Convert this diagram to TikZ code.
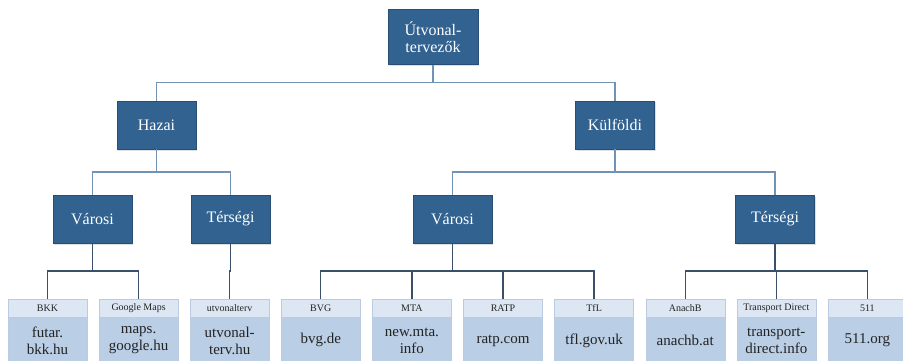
\documentclass[tikz,border=0pt]{standalone}
\usepackage{fontspec}
\setmainfont{Liberation Serif}
\usepackage{tikz}
\usetikzlibrary{calc,shadows}
\definecolor{boxblue}{RGB}{50,98,144}
\definecolor{boxedge}{RGB}{40,78,118}
\definecolor{linelight}{RGB}{112,147,182}
\definecolor{linedark}{RGB}{58,80,106}
\definecolor{hdrfill}{RGB}{221,231,243}
\definecolor{hdredge}{RGB}{188,204,224}
\definecolor{webfill}{RGB}{186,206,230}
\definecolor{txtdark}{RGB}{35,35,35}

\begin{document}
\begin{tikzpicture}[x=1pt, y=-1pt]
% Node styles ---
\tikzstyle{cat} = [rectangle, inner sep = 0pt, minimum width = 79pt, minimum height = 48pt, draw = boxedge, line width = 0.4pt, fill = boxblue, text = white, align = center, font = \fontsize{16}{17}\selectfont, drop shadow = {shadow xshift = 1pt, shadow yshift = -1.5pt, opacity = 0.25}]
\tikzstyle{hdr} = [rectangle, inner sep = 0pt, minimum width = 79pt, minimum height = 18pt, draw = hdredge, line width = 0.4pt, fill = hdrfill, text = txtdark, font = \fontsize{10}{12}\selectfont]
\tikzstyle{web} = [rectangle, inner sep = 0pt, minimum width = 79pt, minimum height = 46pt, draw = hdredge, line width = 0.4pt, fill = webfill, text = txtdark, align = center, font = \fontsize{15}{17}\selectfont]
\tikzstyle{con} = [draw = linelight, line width = 1.3pt, line join = miter, to path = {(\tikztostart) |- ($(\tikztostart)!0.5!(\tikztotarget)$) -| (\tikztotarget)}]
\tikzstyle{cond} = [con, draw = linedark]
% Begin Figure ---
\useasboundingbox (0,0) rectangle (903,361);
% Nodes
\node at (+433.0,+37.0) [cat, minimum width = 90pt, minimum height = 55pt] (root) {Útvonal-\\tervezők};
\node at (+156.5,+125.0) [cat] (hazai) {Hazai};
\node at (+615.0,+125.0) [cat] (kulf) {Külföldi};
\node at (+92.5,+219.0) [cat] (hvar) {Városi};
\node at (+230.5,+219.0) [cat] (hter) {Térségi};
\node at (+452.5,+219.0) [cat] (kvar) {Városi};
\node at (+775.0,+219.0) [cat] (kter) {Térségi};
% Sites
\node at (+47.5,+308.0) [hdr] (bkk) {BKK};
\node at (+138.6,+308.0) [hdr] (gmaps) {Google Maps};
\node at (+229.7,+308.0) [hdr] (utv) {utvonalterv};
\node at (+320.8,+308.0) [hdr] (bvg) {BVG};
\node at (+411.9,+308.0) [hdr] (mta) {MTA};
\node at (+503.0,+308.0) [hdr] (ratp) {RATP};
\node at (+594.1,+308.0) [hdr] (tfl) {TfL};
\node at (+685.2,+308.0) [hdr] (anachb) {AnachB};
\node at (+776.3,+308.0) [hdr] (tdirect) {Transport Direct};
\node at (+867.4,+308.0) [hdr] (t511) {511};
\node at (bkk.south) [web, anchor = north] (bkkweb) {futar.\\bkk.hu};
\node at (gmaps.south) [web, anchor = north] (gmapsweb) {maps.\\google.hu};
\node at (utv.south) [web, anchor = north] (utvweb) {utvonal-\\terv.hu};
\node at (bvg.south) [web, anchor = north] (bvgweb) {bvg.de};
\node at (mta.south) [web, anchor = north] (mtaweb) {new.mta.\\info};
\node at (ratp.south) [web, anchor = north] (ratpweb) {ratp.com};
\node at (tfl.south) [web, anchor = north] (tflweb) {tfl.gov.uk};
\node at (anachb.south) [web, anchor = north] (anachbweb) {anachb.at};
\node at (tdirect.south) [web, anchor = north] (tdirectweb) {transport-\\direct.info};
\node at (t511.south) [web, anchor = north] (t511web) {511.org};
% Paths
\path (root.south) edge [con] (hazai.north);
\path (root.south) edge [con] (kulf.north);
\path (hazai.south) edge [con] (hvar.north);
\path (hazai.south) edge [con] (hter.north);
\path (kulf.south) edge [con] (kvar.north);
\path (kulf.south) edge [con] (kter.north);
\path (hvar.south) edge [cond] (bkk.north);
\path (hvar.south) edge [cond] (gmaps.north);
\path (hter.south) edge [cond] (utv.north);
\path (kvar.south) edge [cond] (bvg.north);
\path (kvar.south) edge [cond] (mta.north);
\path (kvar.south) edge [cond] (ratp.north);
\path (kvar.south) edge [cond] (tfl.north);
\path (kter.south) edge [cond] (anachb.north);
\path (kter.south) edge [cond] (tdirect.north);
\path (kter.south) edge [cond] (t511.north);
\end{tikzpicture}
\end{document}
